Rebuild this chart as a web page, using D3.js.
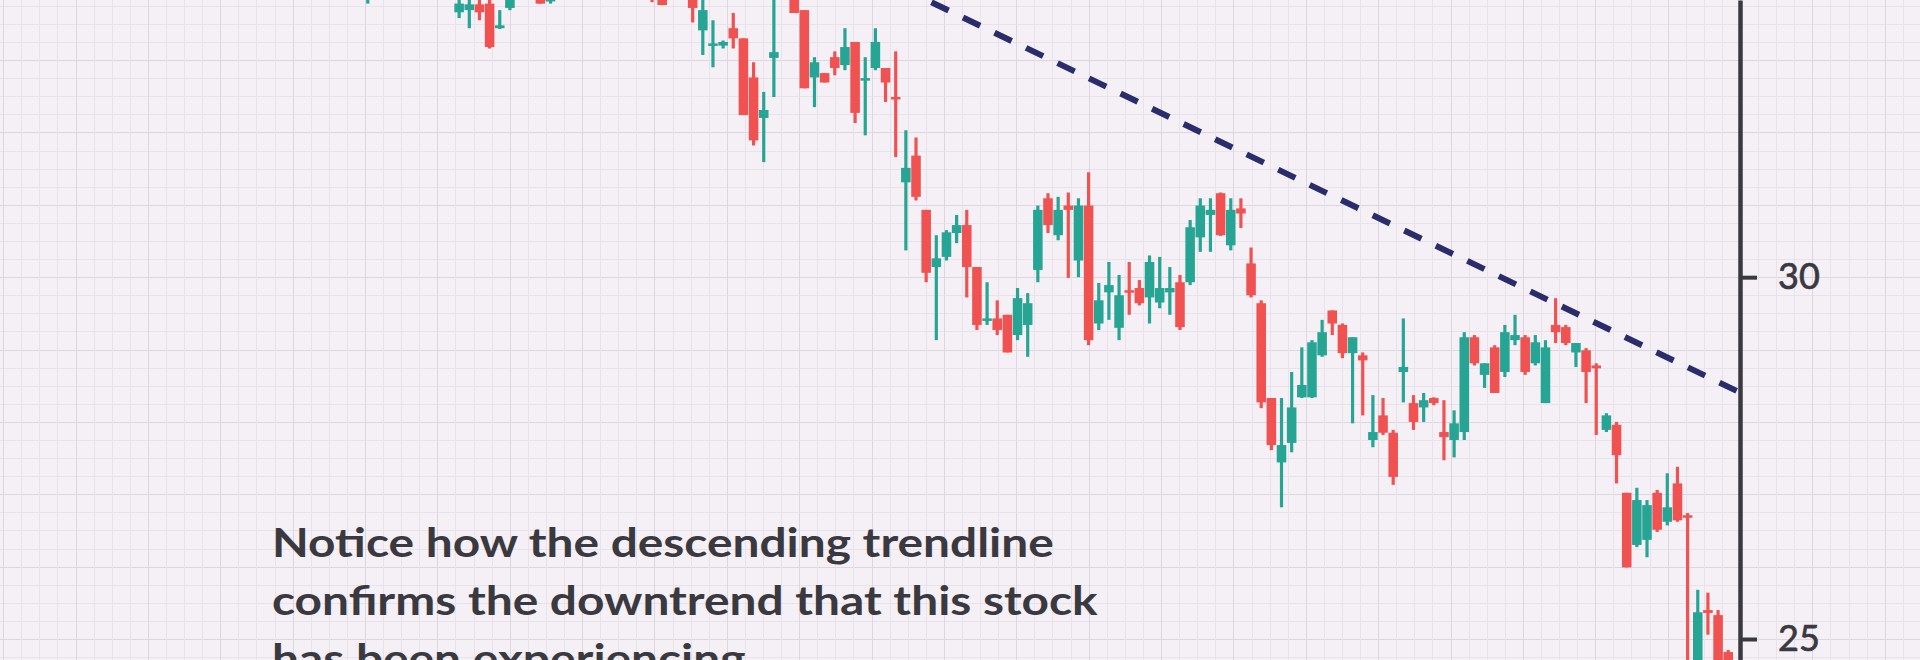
<!DOCTYPE html>
<html>
<head>
<meta charset="utf-8">
<script src="https://cdn.jsdelivr.net/npm/d3@7"></script>
<style>
  html, body { margin: 0; padding: 0; background: #f4f0f5; overflow: hidden; }
  svg { display: block; }
</style>
</head>
<body>
<script>
"use strict";

///////////
///// candles (price in $), one entry per session
///////////

var opens = [
  34.03, 34.24, 34.45, 34.17, 34.45, 34.10, 34.35, 34.07, 33.94, 33.66,
  33.69, 33.77, 33.78, 33.44, 33.72, 34.03, 34.31, 33.99, 33.81, 34.10,
  34.45, 34.79, 34.52, 34.86, 34.59, 34.31, 34.52, 34.10, 34.38, 33.87,
  33.90, 34.17, 34.24, 33.41, 33.20, 33.20, 33.44, 33.30, 32.76, 32.20,
  33.03, 33.90, 33.96, 33.69, 32.76, 32.82, 33.04, 32.93, 33.25, 32.72,
  32.89, 32.89, 32.49, 31.31, 31.68, 30.93, 30.14, 30.28, 30.61, 30.72,
  30.14, 29.41, 29.43, 29.48, 29.20, 29.34, 30.10, 31.09, 30.58, 30.99,
  30.23, 30.99, 29.36, 29.79, 29.30, 29.82, 29.85, 29.72, 29.65, 29.79,
  29.93, 29.93, 30.55, 30.86, 31.16, 30.44, 30.95, 30.19, 29.64, 28.33,
  27.44, 27.71, 28.34, 28.34, 28.92, 29.54, 29.34, 28.95, 28.92, 27.75,
  28.09, 27.85, 28.69, 28.26, 28.20, 28.33, 27.86, 27.75, 27.86, 29.17,
  28.65, 29.03, 28.69, 29.13, 29.17, 28.81, 28.26, 29.34, 29.31, 28.96,
  28.99, 28.78, 27.89, 27.96, 27.02, 26.30, 26.37, 27.02, 26.62, 27.15,
  26.71, 24.30, 25.40, 25.33, 24.82
];

var closes = [
  34.38, 34.52, 34.17, 34.45, 34.10, 34.38, 34.03, 33.94, 34.17, 33.78,
  33.77, 33.66, 33.18, 33.48, 34.03, 34.31, 33.96, 33.78, 34.10, 34.45,
  34.79, 34.52, 34.86, 34.59, 34.31, 34.52, 34.10, 34.38, 33.85, 33.76,
  34.17, 34.38, 33.72, 33.69, 33.23, 33.25, 33.30, 32.24, 31.89, 32.31,
  33.11, 34.24, 33.65, 32.61, 32.97, 32.69, 32.89, 33.18, 32.27, 32.75,
  33.25, 32.69, 32.46, 31.51, 31.11, 30.06, 30.26, 30.62, 30.72, 30.14,
  29.34, 29.43, 29.27, 28.96, 29.71, 29.64, 30.93, 30.72, 30.93, 30.93,
  30.99, 29.13, 29.68, 29.89, 29.75, 29.79, 29.64, 30.21, 29.85, 29.85,
  29.31, 30.69, 30.99, 30.93, 30.58, 30.93, 30.88, 29.75, 28.27, 27.68,
  27.68, 28.20, 28.51, 29.10, 29.24, 29.36, 28.95, 29.17, 28.85, 27.86,
  27.85, 27.24, 28.76, 28.00, 28.30, 28.26, 27.79, 27.98, 29.17, 28.81,
  28.81, 28.40, 29.24, 29.20, 28.69, 29.10, 29.03, 29.24, 29.09, 29.09,
  28.69, 28.74, 28.09, 27.54, 25.99, 26.92, 26.85, 26.51, 26.82, 26.64,
  26.69, 25.37, 25.36, 24.30, 24.16
];

var highs = [
  34.52, 34.65, 34.59, 34.59, 34.65, 34.49, 34.45, 34.24, 34.31, 33.90,
  33.85, 33.87, 33.85, 33.69, 34.10, 34.45, 34.38, 34.10, 34.24, 34.59,
  34.93, 34.93, 35.00, 35.00, 34.72, 34.65, 34.59, 34.45, 34.45, 33.96,
  34.24, 34.45, 34.38, 33.90, 33.55, 33.27, 33.65, 33.30, 32.97, 32.56,
  33.90, 34.38, 34.10, 33.69, 33.04, 32.82, 33.12, 33.44, 33.25, 33.04,
  33.44, 32.89, 33.12, 32.03, 31.93, 30.93, 30.58, 30.65, 30.86, 30.93,
  30.14, 29.93, 29.68, 29.48, 29.85, 29.78, 30.99, 31.16, 31.11, 31.17,
  31.09, 31.45, 29.92, 30.21, 30.03, 30.21, 29.96, 30.30, 30.28, 30.14,
  30.03, 30.79, 31.09, 31.09, 31.17, 31.09, 31.09, 30.41, 29.68, 28.33,
  28.33, 28.69, 29.03, 29.13, 29.41, 29.54, 29.36, 29.17, 28.96, 28.37,
  28.33, 27.89, 29.43, 28.37, 28.40, 28.34, 28.30, 28.16, 29.24, 29.20,
  28.81, 29.06, 29.34, 29.48, 29.20, 29.20, 29.13, 29.71, 29.34, 29.09,
  29.02, 28.81, 28.12, 28.00, 27.02, 27.09, 26.92, 27.06, 27.29, 27.38,
  26.74, 25.68, 25.64, 25.40, 24.85
];

var lows = [
  33.78, 33.96, 34.03, 34.03, 33.99, 33.94, 33.91, 33.88, 33.87, 33.58,
  33.44, 33.55, 33.16, 33.43, 33.69, 33.94, 33.90, 33.78, 33.78, 33.99,
  34.38, 34.45, 34.38, 34.45, 34.24, 34.21, 34.03, 34.03, 33.80, 33.76,
  33.87, 34.10, 33.52, 33.07, 32.90, 33.16, 33.16, 32.24, 31.82, 31.59,
  32.49, 33.85, 33.65, 32.61, 32.35, 32.69, 32.79, 32.86, 32.13, 31.96,
  32.86, 32.42, 31.66, 30.37, 31.06, 29.93, 29.13, 30.23, 30.47, 29.72,
  29.27, 29.34, 29.20, 28.96, 29.13, 28.90, 29.93, 30.61, 30.51, 29.99,
  30.00, 29.06, 29.27, 29.41, 29.13, 29.48, 29.61, 29.36, 29.57, 29.48,
  29.27, 29.89, 30.35, 30.35, 30.57, 30.37, 30.68, 29.72, 28.19, 27.61,
  26.82, 27.58, 28.33, 28.33, 28.90, 29.20, 28.88, 27.98, 28.09, 27.65,
  27.82, 27.13, 28.27, 27.89, 28.00, 28.23, 27.47, 27.51, 27.75, 28.78,
  28.47, 28.40, 28.62, 29.06, 28.65, 28.78, 28.26, 29.09, 29.06, 28.76,
  28.26, 27.82, 27.86, 27.15, 25.99, 26.27, 26.13, 26.48, 26.57, 26.62,
  24.30, 24.16, 25.06, 24.16, 24.02
];

// descending trendline as [session index, price]
var trendline = [[40, 34.85], [135.1, 28.41]];

// price axis
var priceTicks = [25, 30];

var note = [
  "Notice how the descending trendline",
  "confirms the downtrend that this stock",
  "has been experiencing"
];

////////////
///// drawing
////////////

var width = 1920, height = 660;
var teal = "#27a594", red = "#f05151", ink = "#3a3841";

var N = d3.min([opens.length, closes.length, highs.length, lows.length]);
var candles = d3.range(N).map(i => ({ i: i, o: opens[i], c: closes[i], h: highs[i], l: lows[i] }));

var svg = d3.select("body").append("svg")
    .attr("width", width)
    .attr("height", height);

var y = d3.scaleLinear().domain([24.71, 33.83]).range([height, 0]);
var x = d3.scaleBand().domain(d3.range(N)).range([363, 1733]).paddingInner(0.06);
var bw = x.bandwidth();
// continuous version of the session index, for the trendline
var xi = d3.scaleLinear().domain([0, N - 1]).range([x(0) + bw / 2, x(N - 1) + bw / 2]);

var axisX = 1740;

///grid paper, one small square = a quarter dollar
var cell = y(29.75) - y(30);
var grid = svg.append("g").attr("class", "grid");

grid.selectAll("line.h")
  .data(d3.range(99, 136).map(k => k / 4))
  .enter().append("line")
    .attr("class", "h")
    .attr("x1", 0).attr("x2", width)
    .attr("y1", d => Math.round(y(d)) + 0.5)
    .attr("y2", d => Math.round(y(d)) + 0.5)
    .attr("stroke", d => d % 1 === 0 ? "#ddd6e1" : "#e8e2eb")
    .attr("stroke-width", 1);

grid.selectAll("line.v")
  .data(d3.range(-11, 100))
  .enter().append("line")
    .attr("class", "v")
    .attr("y1", 0).attr("y2", height)
    .attr("x1", k => Math.round(axisX - k * cell) + 0.5)
    .attr("x2", k => Math.round(axisX - k * cell) + 0.5)
    .attr("stroke", k => k % 4 === 0 ? "#ddd6e1" : "#e8e2eb")
    .attr("stroke-width", 1);

///candles
var cg = svg.append("g").attr("class", "candles")
  .selectAll("g")
  .data(candles)
  .enter().append("g")
    .attr("fill", d => d.c >= d.o ? teal : red)
    .attr("stroke", d => d.c >= d.o ? teal : red);

cg.append("line")
    .attr("x1", d => x(d.i) + bw / 2)
    .attr("x2", d => x(d.i) + bw / 2)
    .attr("y1", d => y(d.h))
    .attr("y2", d => y(d.l))
    .attr("stroke-width", 3.2);

cg.append("rect")
    .attr("x", d => x(d.i))
    .attr("width", bw)
    .attr("y", d => y(Math.max(d.o, d.c)))
    .attr("height", d => Math.max(2.5, Math.abs(y(d.o) - y(d.c))))
    .attr("stroke", "none");

///trendline
var trend = d3.line().x(d => xi(d[0])).y(d => y(d[1]));

svg.append("path")
    .attr("d", trend(trendline))
    .attr("fill", "none")
    .attr("stroke", "#2b2c6b")
    .attr("stroke-width", 6)
    .attr("stroke-dasharray", "19,16");

///price axis on the right
var axis = svg.append("g")
    .attr("transform", "translate(" + axisX + ",0)")
    .call(d3.axisRight(y).tickValues(priceTicks).tickSize(17).tickSizeOuter(0).tickPadding(21).tickFormat(d3.format("d")));

axis.select(".domain").attr("stroke", ink).attr("stroke-width", 4.5);
axis.selectAll(".tick line").attr("stroke", ink).attr("stroke-width", 4);
axis.selectAll(".tick text")
    .attr("fill", ink)
    .attr("stroke", ink)
    .attr("stroke-width", 0.7)
    .style("font-family", "Lato, 'Open Sans', sans-serif")
    .style("font-size", "36px");

///caption: bold and a little condensed, like the picture
var fs = 40;
var capX = 272;
var caption = svg.append("text")
    .attr("x", 0)
    .attr("y", 557)
    .attr("fill", "#3a3940")
    .style("font-family", "Lato, 'Open Sans', sans-serif")
    .style("font-weight", "bold")
    .style("font-size", fs + "px");

caption.selectAll("tspan")
  .data(note)
  .enter().append("tspan")
    .attr("x", 0)
    .attr("dy", (d, i) => i ? 58 : 0)
    .text(d => d);

// squeeze so the second line keeps the width it has in the picture
var w2 = caption.selectAll("tspan").nodes()[1].getComputedTextLength();
var sx = w2 > 0 ? 826 / w2 : 1;
caption.attr("transform", "translate(" + capX + ",0) scale(" + sx + ",1)");

</script>
</body>
</html>
